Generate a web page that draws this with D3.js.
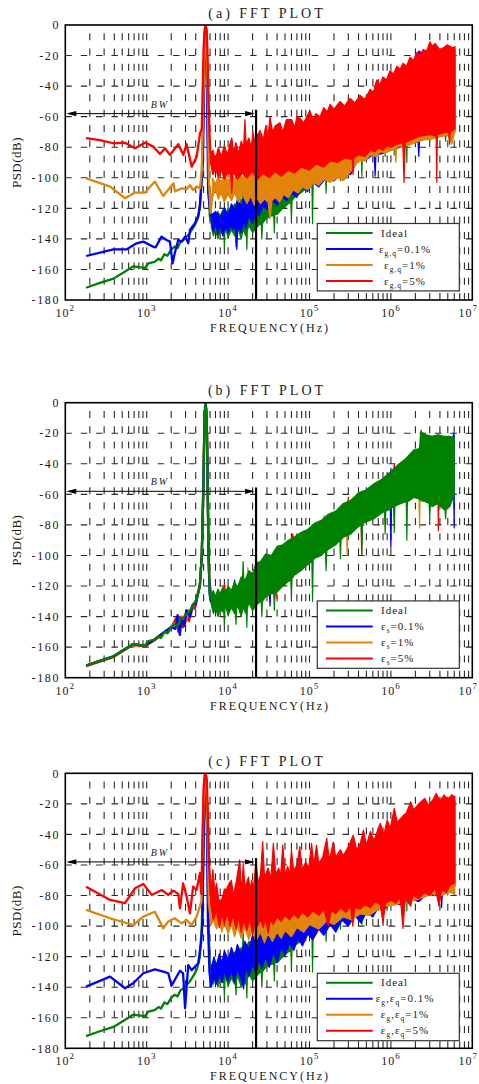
<!DOCTYPE html>
<html><head><meta charset="utf-8">
<script src="https://cdn.jsdelivr.net/npm/d3@7"></script>
<style>
body{margin:0;background:#fff}
svg{display:block}
text{font-family:"Liberation Serif","DejaVu Serif",serif;fill:#1a1a1a}
</style>
</head><body>
<svg id="chart" width="479" height="1084" font-family="Liberation Serif, DejaVu Serif, serif"></svg>
<script>
// ---------------- axis / annotation data ----------------
const yTickValues = [0,-20,-40,-60,-80,-100,-120,-140,-160,-180];
const xTickExponents = [2,3,4,5,6,7];
const panelTitles = ["(a) FFT PLOT","(b) FFT PLOT","(c) FFT PLOT"];
const bwFreq = 22050, bwLevel = -58, bwTopLevel = -55.5;
const legendA = ["Ideal","ε_{g,q}=0.1%","ε_{g,q}=1%","ε_{g,q}=5%"];
const legendB = ["Ideal","ε_{s}=0.1%","ε_{s}=1%","ε_{s}=5%"];
const legendC = ["Ideal","ε_{g},ε_{q}=0.1%","ε_{g},ε_{q}=1%","ε_{g},ε_{q}=5%"];
const seriesColors = {ideal:"#008000", blue:"#0000ff", orange:"#e0850a", red:"#ff0000"};

// ---------------- Ideal (same in all panels) ----------------
const idealLow = [[180,-172],[260,-169],[390,-166],[520,-162],[680,-158],[800,-158.5],[950,-159],[1050,-156],[1250,-155],[1400,-153],[1500,-154],[1650,-150],[1800,-151],[2000,-147],[2200,-145],[2400,-146],[2600,-142],[2800,-141],[3000,-139],[3300,-137],[3600,-134],[3900,-131],[4200,-127],[4500,-120],[4750,-100],[4950,-60],[5100,-20],[5200,-5],[5300,-1],[5400,-5],[5500,-20],[5620,-60],[5750,-100],[5950,-125],[6200,-129]];
const idealTop = [[6200,-126],[6600,-123],[7000,-127],[7500,-122],[8000,-125],[8600,-121],[9300,-124],[10000,-120],[11000,-123],[12000,-117],[13000,-121],[14500,-114],[15000,-117],[15300,-104],[15600,-116],[16500,-115],[18000,-110],[20000,-112],[22000,-105],[25000,-104],[29000,-99],[34000,-100],[40000,-94],[47000,-93],[55000,-90],[65000,-88],[78000,-85],[95000,-83],[115000,-79],[140000,-77],[170000,-73],[210000,-71],[260000,-66],[320000,-64],[400000,-59],[500000,-57],[620000,-53],[780000,-50],[950000,-46],[1200000,-41],[1500000,-37],[1900000,-31],[2250000,-30],[2320000,-19],[2700000,-21],[3200000,-22],[3800000,-21],[4500000,-22],[5300000,-22],[6000000,-23]];
const idealBot = [[6200,-132],[6600,-138],[7000,-134],[7500,-140],[8000,-135],[8600,-137],[8850,-136],[9000,-146],[9150,-135],[9300,-133],[10000,-139],[11000,-134],[12000,-138],[12300,-137],[12500,-145],[12700,-136],[13000,-132],[14500,-140],[15300,-134],[16500,-138],[16800,-137],[17000,-147],[17200,-135],[18000,-131],[20000,-136],[22000,-133],[25000,-130],[25600,-131],[26000,-140],[26400,-130],[29000,-127],[34000,-125],[36400,-125],[37000,-136],[37600,-124],[40000,-124],[47000,-120],[55000,-117],[59000,-116],[60000,-128],[61000,-115],[65000,-113],[78000,-110],[95000,-106],[107000,-104],[109000,-130],[111000,-103],[115000,-102],[140000,-100],[157000,-97],[160000,-110],[163000,-97],[170000,-96],[210000,-93],[236000,-90],[240000,-102],[244000,-90],[260000,-88],[320000,-86],[400000,-81],[432000,-80],[440000,-99],[448000,-79],[500000,-78],[620000,-76],[780000,-72],[835000,-71],[850000,-86],[865000,-71],[950000,-70],[1080000,-68],[1100000,-85],[1120000,-68],[1200000,-67],[1500000,-65],[1545000,-65],[1570000,-90],[1595000,-65],[1900000,-62],[2250000,-63],[2320000,-64],[2700000,-65],[2950000,-66],[3000000,-76],[3050000,-66],[3200000,-68],[3800000,-66],[4500000,-70],[4620000,-70],[4700000,-76],[4780000,-69],[5300000,-68],[6000000,-60]];

// ---------------- Panel (a) ----------------
const aBlueLow = [[180,-151.2],[267,-149],[390,-146.8],[570,-146.8],[750,-142.9],[910,-141.8],[1200,-145.1],[1290,-145.5],[1520,-138.5],[1750,-140.7],[1930,-141.8],[2080,-156],[2220,-149],[2440,-140.7],[2690,-141.8],[2960,-138.5],[3240,-142.9],[3400,-134.2],[3900,-129.8],[4300,-125.4],[4520,-116.7],[4900,-90],[5100,-30],[5250,-4],[5350,-3],[5450,-20],[5550,-60],[5700,-110],[5950,-119],[6200,-125]];
const aBlueTop = [[6200,-125],[7000,-122],[8000,-126],[9000,-120],[10000,-124],[11000,-117],[12000,-121],[13000,-114],[14500,-119],[16000,-110],[17500,-116],[19000,-108],[21000,-112],[23000,-104],[26000,-108],[30000,-101],[40000,-99],[55000,-92],[80000,-85],[120000,-78],[180000,-70],[270000,-62],[400000,-54],[600000,-46],[900000,-37],[1300000,-30],[1900000,-24],[2200000,-17],[2600000,-20],[3500000,-16],[4500000,-17],[6100000,-16]];
const aBlueBot = [[6200,-128],[6600,-135],[7000,-130],[7500,-137],[8000,-131],[8600,-138],[9300,-132],[10000,-136],[10800,-131],[11500,-134],[12400,-133],[12800,-147],[13200,-132],[14500,-136],[15500,-128],[16500,-133],[18000,-125],[20000,-130],[22000,-122],[24000,-125],[27000,-118],[30000,-121],[35000,-115],[40000,-118],[46000,-112],[52000,-115],[60000,-110],[70000,-113],[76000,-108],[82000,-106],[95000,-109],[110000,-103],[130000,-106],[160000,-100],[200000,-102],[250000,-97],[320000,-98],[400000,-87],[500000,-88],[600000,-85],[625000,-86],[640000,-99],[655000,-85],[800000,-84],[1000000,-82],[1300000,-80],[1700000,-78],[2150000,-76],[2200000,-86],[2250000,-76],[2500000,-75],[3000000,-74],[4000000,-73],[5000000,-72],[6100000,-70]];
const aOrangeLow = [[180,-100.3],[355,-105.8],[541,-113.4],[718,-109.7],[953,-109.7],[1260,-102.5],[1600,-111.9],[2130,-103.6],[2220,-108.9],[2690,-106.9],[3090,-107.5],[3400,-104.9],[3720,-108],[4115,-105.8],[4520,-106.9],[4750,-95],[5000,-40],[5200,-5],[5300,-1],[5400,-5],[5600,-40],[5800,-100],[6100,-123],[6400,-110]];
const aOrangeTop = [[6400,-100],[7000,-104],[7600,-99],[8200,-103],[9000,-98],[10000,-102],[11000,-97],[12000,-101],[13500,-96],[15000,-100],[17000,-95],[19000,-99],[21000,-93],[22500,-98],[25000,-92],[30000,-86],[40000,-80],[60000,-74],[100000,-66],[180000,-60],[300000,-54],[550000,-46],[1000000,-36],[1700000,-26],[2300000,-20],[3000000,-18],[4500000,-18],[6100000,-18]];
const aOrangeBot = [[6400,-113],[7000,-108],[7600,-114],[8200,-110],[9000,-116],[10000,-111],[11000,-115],[12000,-110],[13500,-116],[15000,-111],[17000,-117],[19000,-112],[21000,-118],[22500,-113],[25000,-117],[28000,-114],[31000,-116],[32700,-127],[34500,-115],[38000,-113],[43000,-116],[48000,-111],[55000,-113],[63000,-108],[72000,-110],[82000,-106],[95000,-108],[113000,-103],[130000,-105],[150000,-101],[180000,-103],[220000,-100],[260000,-102],[320000,-96],[400000,-89],[480000,-89],[560000,-85],[650000,-86],[750000,-83],[850000,-84],[1000000,-82],[1120000,-81],[1150000,-90],[1180000,-80],[1600000,-79],[2000000,-77],[2500000,-75],[3000000,-75],[3500000,-74],[4200000,-73],[5000000,-72],[5600000,-78],[6100000,-70]];
const aRedLow = [[180,-74],[267,-75.3],[390,-77.4],[541,-77],[718,-80.7],[953,-77],[1205,-79.6],[1453,-84.4],[1680,-80.7],[1930,-85],[2445,-78],[2818,-85],[3090,-78],[3573,-92.7],[4115,-86],[4520,-71],[4750,-68],[4880,-40],[5000,-15],[5150,-3],[5300,0],[5450,-3],[5560,-15],[5700,-40],[5900,-70],[6050,-84]];
const aRedTop = [[6050,-84],[6500,-82],[7000,-88],[7600,-80],[8200,-86],[9000,-79],[9800,-85],[10500,-78],[11100,-74],[11700,-83],[12500,-77],[13500,-84],[14500,-76],[15500,-80],[16100,-62],[16700,-78],[18000,-74],[19200,-80],[20200,-70],[21500,-78],[23000,-72],[24700,-69],[27000,-75],[29000,-66],[31000,-73],[32700,-60],[35000,-70],[38000,-66],[43400,-64],[47000,-70],[52000,-62],[60400,-62],[66000,-67],[70000,-60],[76400,-61],[85000,-64],[101000,-56],[110000,-62],[120000,-58],[135000,-60],[150000,-54],[165000,-57],[179000,-52],[200000,-55],[237000,-50],[270000,-53],[315000,-48],[360000,-51],[418000,-46],[480000,-49],[555000,-42],[610000,-44],[670000,-36],[730000,-39],[800000,-34],[880000,-36],[976000,-30],[1080000,-32],[1180000,-27],[1300000,-29],[1410000,-25],[1560000,-27],[1720000,-21],[1900000,-23],[2080000,-18],[2280000,-20],[2480000,-16],[2750000,-17],[3020000,-11],[3250000,-14],[3480000,-12],[3950000,-16],[4410000,-15],[4900000,-13],[5330000,-14],[5800000,-15],[6130000,-14]];
const aRedBot = [[6050,-90],[6500,-98],[7000,-94],[7600,-100],[8200,-95],[9000,-101],[10000,-96],[10800,-99],[11100,-110],[11400,-98],[11800,-97],[13000,-101],[15000,-97],[17000,-100],[20000,-96],[23000,-101],[27000,-97],[32000,-100],[38000,-96],[45000,-99],[55000,-95],[65000,-97],[80000,-93],[100000,-95],[120000,-91],[150000,-93],[180000,-89],[220000,-90],[270000,-87],[335000,-88],[343000,-98],[351000,-87],[400000,-85],[480000,-86],[560000,-82],[640000,-83],[700000,-80],[800000,-82],[900000,-79],[1000000,-80],[1200000,-78],[1400000,-77],[1450000,-103],[1500000,-77],[1800000,-75],[2200000,-73],[2800000,-72],[3200000,-72],[3600000,-73],[3660000,-103],[3720000,-72],[4200000,-71],[4900000,-70],[5150000,-71],[5250000,-78],[5350000,-70],[6130000,-68]];

// ---------------- Panel (b) ----------------
const bBlueLow = [[180,-172],[390,-166],[680,-158],[950,-159],[1250,-155],[1650,-150],[2000,-147],[2250,-148],[2400,-139],[2550,-152],[2700,-141],[2900,-146],[3100,-136],[3400,-140],[3700,-132],[4000,-132],[4300,-124],[4500,-120],[4750,-100],[4950,-60],[5100,-20],[5200,-5],[5300,-1],[5400,-5],[5500,-20],[5620,-60],[5750,-100],[5950,-126],[6200,-131]];
const bBlueTop = [[6200,-129],[11800,-122],[12000,-116],[12200,-122],[15000,-121],[22000,-110],[30000,-104],[47000,-96],[78000,-89],[115000,-83],[170000,-77],[260000,-71],[400000,-64],[620000,-58],[950000,-51],[990000,-49],[1000000,-43],[1010000,-49],[1500000,-42],[2250000,-35],[2330000,-25],[3200000,-26],[5700000,-25],[5900000,-20],[6000000,-22]];
const bBlueBot = [[6200,-130],[20000,-130],[25000,-124],[32000,-121],[32700,-133],[33400,-121],[40000,-118],[65000,-107],[115000,-96],[170000,-90],[260000,-82],[400000,-75],[620000,-70],[980000,-64],[1000000,-95],[1020000,-64],[1500000,-59],[2300000,-57],[3200000,-62],[5900000,-58],[6000000,-82]];
const bOrangeLow = [[180,-172],[390,-166],[680,-158],[950,-159],[1250,-155],[1650,-150],[2000,-147],[2350,-143],[2500,-148],[2750,-140],[3000,-144],[3250,-136],[3500,-139],[3800,-131],[4100,-129],[4500,-120],[4750,-100],[4950,-60],[5100,-20],[5200,-5],[5300,-1],[5400,-5],[5500,-20],[5620,-60],[5750,-100],[5950,-124],[6200,-128]];
const bOrangeTop = [[6200,-129],[15000,-121],[17300,-115],[17500,-108],[17700,-115],[22000,-110],[30000,-104],[47000,-96],[78000,-89],[115000,-83],[145000,-79],[150000,-74],[155000,-79],[260000,-71],[400000,-64],[620000,-58],[950000,-51],[1500000,-42],[2250000,-35],[2330000,-25],[3200000,-26],[6000000,-27]];
const bOrangeBot = [[6200,-130],[20000,-130],[25000,-124],[40000,-118],[65000,-107],[115000,-96],[170000,-90],[260000,-82],[285000,-81],[290000,-100],[295000,-81],[400000,-75],[620000,-70],[950000,-64],[1500000,-59],[2200000,-57],[2250000,-82],[2300000,-57],[3200000,-62],[6000000,-56]];
const bRedLow = [[180,-172.5],[390,-166.5],[680,-158.5],[950,-159.5],[1250,-155.5],[1650,-150.5],[2000,-147.5],[2300,-141],[2450,-150],[2600,-140],[2800,-147],[3000,-138],[3300,-143],[3600,-133],[3900,-135],[4200,-126],[4500,-119],[4750,-99],[4950,-55],[5100,-15],[5200,-3],[5300,-2],[5450,-8],[5550,-30],[5700,-80],[5850,-115],[6200,-126]];
const bRedTop = [[6200,-129],[8500,-127],[9000,-119],[9500,-127],[15000,-121],[22000,-110],[30000,-104],[47000,-96],[60000,-90],[62000,-86],[64000,-90],[78000,-89],[115000,-83],[170000,-77],[260000,-71],[290000,-69],[300000,-62],[310000,-69],[400000,-64],[620000,-58],[950000,-51],[1080000,-46],[1100000,-40],[1120000,-46],[1500000,-42],[2250000,-35],[2330000,-25],[2360000,-18],[2400000,-25],[3200000,-26],[6000000,-27]];
const bRedBot = [[6200,-130],[15000,-130],[20000,-130],[25000,-124],[38000,-119],[39000,-128],[40000,-118],[65000,-107],[115000,-96],[170000,-90],[260000,-82],[400000,-75],[430000,-75],[437000,-100],[444000,-74],[620000,-70],[950000,-64],[1500000,-59],[2300000,-57],[3200000,-62],[3780000,-62],[3830000,-84],[3880000,-62],[6000000,-56]];

// ---------------- Panel (c) ----------------
const cBlueLow = [[180,-139.6],[355,-133.1],[541,-140.7],[683,-137.4],[910,-130.9],[1260,-128.3],[1600,-129.8],[1840,-130.9],[2020,-139],[2560,-129.2],[2800,-130.9],[2960,-153.8],[3240,-125.5],[3570,-128.9],[3900,-126.6],[4300,-124.4],[4700,-109],[4850,-96],[5000,-40],[5200,-3],[5350,-3],[5500,-40],[5650,-96],[5900,-130],[6200,-140]];
const cBlueTop = [[6200,-128],[6700,-120],[7200,-126],[7800,-118],[8400,-124],[9000,-116],[10000,-122],[11000,-114],[12000,-120],[13000,-112],[14500,-118],[16000,-110],[18000,-115],[20000,-106],[22000,-111],[25000,-103],[28000,-107],[31000,-100],[35000,-104],[40000,-97],[45000,-101],[50000,-94],[60000,-96],[70000,-90],[85000,-92],[100000,-86],[150000,-80],[250000,-70],[400000,-60],[700000,-50],[1200000,-38],[2000000,-28],[3500000,-20],[6100000,-18]];
const cBlueBot = [[6200,-140],[6700,-133],[7200,-138],[7800,-131],[8400,-137],[9000,-130],[10000,-136],[11000,-129],[12000,-137],[13000,-128],[14500,-135],[15500,-141],[16500,-127],[18000,-133],[20000,-125],[22000,-131],[24000,-122],[26000,-128],[29000,-120],[32000,-127],[36000,-117],[40000,-124],[45000,-114],[50000,-119],[57000,-111],[64000,-116],[72000,-108],[82000,-113],[95000,-105],[110000,-109],[130000,-102],[150000,-106],[180000,-99],[210000,-104],[250000,-96],[300000,-100],[360000,-93],[430000,-98],[500000,-91],[600000,-94],[700000,-88],[800000,-90],[1000000,-85],[1300000,-86],[1700000,-82],[2200000,-84],[2800000,-79],[3300000,-80],[4100000,-77],[4200000,-88],[4300000,-77],[5000000,-77],[6100000,-74]];
const cOrangeLow = [[180,-89.4],[355,-94.9],[683,-99.3],[910,-93.8],[1260,-90.6],[1600,-101.5],[1840,-97],[2200,-94.9],[2690,-98.2],[3090,-96],[3570,-99.3],[4100,-93.8],[4700,-84],[4900,-40],[5100,-5],[5250,-1],[5400,-5],[5600,-40],[5800,-85],[6100,-95]];
const cOrangeTop = [[6100,-88],[6600,-84],[7200,-90],[7800,-85],[8400,-92],[9000,-86],[10000,-91],[11000,-85],[12000,-90],[13000,-84],[14500,-89],[16000,-83],[18000,-88],[20000,-82],[22000,-87],[25000,-83],[30000,-80],[40000,-78],[60000,-74],[100000,-68],[200000,-60],[400000,-52],[800000,-42],[1500000,-32],[3000000,-24],[6100000,-20]];
const cOrangeBot = [[6100,-100],[6600,-96],[7200,-102],[7800,-97],[8400,-104],[9000,-98],[10000,-105],[11000,-99],[12000,-107],[13000,-100],[14500,-108],[16000,-101],[18000,-109],[20000,-102],[22000,-110],[25000,-104],[28000,-111],[31000,-105],[35000,-110],[40000,-104],[45000,-108],[50000,-103],[60000,-107],[70000,-101],[85000,-104],[100000,-99],[130000,-102],[160000,-97],[200000,-99],[260000,-94],[330000,-96],[420000,-92],[540000,-93],[700000,-89],[900000,-87],[1150000,-86],[1500000,-84],[2000000,-83],[2600000,-81],[3300000,-79],[4200000,-80],[5200000,-78],[6100000,-79]];
const cRedLow = [[180,-74.2],[355,-82.9],[541,-85],[718,-75.3],[910,-72.4],[1150,-79.6],[1530,-76.4],[1840,-79.6],[2130,-76.8],[2440,-79],[2560,-88.4],[2800,-72],[3090,-80.7],[3400,-91.6],[3720,-74.2],[4100,-76.4],[4500,-65.4],[4700,-79],[4850,-40],[5000,-10],[5150,-1],[5300,0],[5450,-3],[5600,-20],[5850,-60],[6100,-80]];
const cRedTop = [[6100,-80],[6500,-63],[6900,-78],[7200,-72],[7700,-83],[8300,-83],[9000,-76],[9500,-76],[10300,-72],[11000,-70],[11600,-80],[12500,-72],[13900,-56.7],[14600,-78],[15400,-58.7],[16100,-75],[17800,-68],[18700,-76],[19500,-70],[20500,-75],[22000,-57],[23500,-72],[25000,-66],[26600,-44.7],[28000,-68],[31000,-62],[33500,-69],[36000,-45.8],[38500,-66],[42000,-62],[44000,-68],[47000,-46.9],[50000,-66],[54000,-61],[57000,-67],[60000,-50],[64000,-64],[70000,-60],[76000,-48],[81000,-63],[90000,-58],[98000,-62],[106000,-45.8],[113000,-60],[122000,-47],[130000,-59],[145000,-55],[163000,-42.5],[175000,-57],[196000,-45],[210000,-55],[240000,-50],[260000,-54],[300000,-48],[345000,-40.4],[380000,-50],[420000,-46],[460000,-37.1],[500000,-47],[560000,-38],[620000,-44],[740000,-32.7],[820000,-40],[900000,-30.5],[980000,-36],[1100000,-22.9],[1200000,-32],[1400000,-28],[1550000,-26],[1750000,-18.6],[1900000,-24],[2200000,-20],[2600000,-16.4],[2900000,-21],[3300000,-17],[3600000,-13.1],[4000000,-18],[4500000,-14.2],[5000000,-17],[5600000,-14],[6000000,-15.3],[6100000,-15]];
const cRedBot = [[6100,-85],[6600,-96],[7200,-90],[7800,-101],[8400,-92],[9000,-99],[9800,-91],[10500,-100],[11500,-93],[12500,-102],[13500,-94],[14500,-104],[15500,-96],[17000,-103],[18500,-95],[20000,-106],[21500,-97],[23000,-100],[25000,-96],[27000,-101],[29000,-95],[31000,-104.7],[33000,-96],[36000,-99],[40000,-94],[45000,-97],[50000,-93],[57000,-96],[64000,-92],[72000,-95],[82000,-91],[95000,-94],[110000,-90],[130000,-93],[150000,-89],[170000,-100],[185000,-90],[210000,-92],[240000,-88],[280000,-91],[320000,-87],[340000,-100],[360000,-88],[420000,-89],[480000,-86],[560000,-88],[640000,-84],[740000,-86],[800000,-98],[860000,-85],[1000000,-83],[1150000,-85],[1300000,-81],[1410000,-101.5],[1500000,-82],[1750000,-87],[1850000,-80],[2200000,-82],[2600000,-78],[3000000,-80],[3500000,-75],[3900000,-87],[4200000,-76],[4800000,-78],[5400000,-73],[6100000,-72]];

// ---------------- layout ----------------
const FONT = "Liberation Serif, DejaVu Serif, serif";
const plotLeft = 65.3, plotRight = 472.3, plotH = 275;
const panelTops = [25, 402.7, 773.3];
const svg = d3.select("#chart");
const x = d3.scaleLog().domain([1e2,1e7]).range([plotLeft,plotRight]);

function rich(t, str){
  let shifted = false;
  str.split(/(_\{[^}]*\})/).forEach(p => {
    if (!p) return;
    if (p.startsWith("_{")) {
      t.append("tspan").attr("font-size","7.5px").attr("dy", shifted?0:3).text(p.slice(2,-1));
      shifted = true;
    } else {
      t.append("tspan").attr("dy", shifted?-3:0).text(p);
      shifted = false;
    }
  });
}

function drawPanel(cfg){
  const top = cfg.top, bottom = top + plotH;
  const y = d3.scaleLinear().domain([0,-180]).range([top,bottom]);
  const g = svg.append("g").attr("font-family", FONT);
  const clipId = "clip" + cfg.id;
  svg.append("clipPath").attr("id",clipId).append("rect")
    .attr("x",plotLeft).attr("y",top).attr("width",plotRight-plotLeft).attr("height",plotH);

  // grid
  const grid = g.append("g").attr("stroke","#2a2a2a").attr("stroke-width",1.1).attr("fill","none");
  x.ticks().filter(v => v > 100*1.001 && v < 1e7*0.999).forEach(v => {
    grid.append("line").attr("x1",x(v)).attr("x2",x(v)).attr("y1",bottom).attr("y2",top)
      .attr("stroke-dasharray","7 8.28");
  });
  yTickValues.filter(v => v < 0 && v > -180).forEach(v => {
    grid.append("line").attr("x1",plotLeft).attr("x2",plotRight).attr("y1",y(v)).attr("y2",y(v))
      .attr("stroke-dasharray","6.5 8.9");
  });

  // data
  const dg = g.append("g").attr("clip-path",`url(#${clipId})`);
  const line = d3.line().x(d => x(d[0])).y(d => y(d[1]));
  cfg.series.forEach(s => {
    dg.append("path").attr("d", line(s.top.concat(s.bot.slice().reverse())) + "Z")
      .attr("fill", s.color).attr("stroke", s.color).attr("stroke-width",1.2).attr("stroke-linejoin","round");
    dg.append("path").attr("d", line(s.low)).attr("fill","none")
      .attr("stroke", s.color).attr("stroke-width",2.3).attr("stroke-linejoin","round");
  });

  // BW marker
  const xb = x(bwFreq), ya = y(bwLevel);
  g.append("line").attr("x1",xb).attr("x2",xb).attr("y1",y(bwTopLevel)).attr("y2",bottom)
    .attr("stroke","#000").attr("stroke-width",2.2);
  g.append("line").attr("x1",plotLeft+4).attr("x2",xb-4).attr("y1",ya).attr("y2",ya)
    .attr("stroke","#000").attr("stroke-width",1);
  g.append("path").attr("d",`M${plotLeft+1},${ya}L${plotLeft+11},${ya-2.6}L${plotLeft+11},${ya+2.6}Z`).attr("fill","#000");
  g.append("path").attr("d",`M${xb-1.5},${ya}L${xb-11},${ya-2.6}L${xb-11},${ya+2.6}Z`).attr("fill","#000");
  g.append("text").attr("x",160).attr("y",ya-6).attr("text-anchor","middle")
    .attr("font-size","10px").attr("font-style","italic").attr("letter-spacing","2px").attr("fill","#333").text("BW");

  // frame
  g.append("rect").attr("x",plotLeft).attr("y",top).attr("width",plotRight-plotLeft).attr("height",plotH)
    .attr("fill","none").attr("stroke","#000").attr("stroke-width",1.6);

  // y tick labels
  yTickValues.forEach(v => {
    g.append("text").attr("x",60).attr("y",y(v)).attr("dy","0.35em").attr("text-anchor","end")
      .attr("font-size","12px").attr("letter-spacing","1.6px").text(String(v));
  });
  // x tick labels
  xTickExponents.forEach((e,i) => {
    const last = i === xTickExponents.length-1;
    const t = g.append("text").attr("x", last ? 478 : x(Math.pow(10,e)))
      .attr("y",bottom+17).attr("text-anchor", last ? "end" : "middle")
      .attr("font-size","12px").attr("letter-spacing","1px");
    t.append("tspan").text("10");
    t.append("tspan").attr("font-size","9px").attr("dy",-6).text(String(e));
  });
  // axis titles
  g.append("text").attr("x",270).attr("y",bottom+32).attr("text-anchor","middle")
    .attr("font-size","12px").attr("letter-spacing","2px").text("FREQUENCY(Hz)");
  g.append("text").attr("transform",`translate(21,${top+plotH/2}) rotate(-90)`).attr("text-anchor","middle")
    .attr("font-size","13px").attr("letter-spacing","0.5px").text("PSD(dB)");
  g.append("text").attr("x",267).attr("y",top-7.5).attr("text-anchor","middle")
    .attr("font-size","14px").attr("letter-spacing","3px").text(cfg.title);

  // legend
  const ly = top + cfg.legendOffset;
  const lg = g.append("g");
  lg.append("rect").attr("x",317.3).attr("y",ly).attr("width",142).attr("height",67.4)
    .attr("fill","#fff").attr("stroke","#333").attr("stroke-width",1.2);
  cfg.legend.forEach((lab,i) => {
    const ry = ly + 9.5 + i*16;
    lg.append("line").attr("x1",326).attr("x2",372.7).attr("y1",ry).attr("y2",ry)
      .attr("stroke", cfg.legendColors[i]).attr("stroke-width",2);
    const centered = cfg.legendCenter && i > 0;
    const t = lg.append("text").attr("x", centered ? 405 : 381).attr("y", ry+3.5)
      .attr("text-anchor", centered ? "middle" : "start")
      .attr("font-size","11px").attr("letter-spacing","1px").attr("fill","#333");
    rich(t, lab);
  });
}

const C = seriesColors;
const legendColors = [C.ideal, C.blue, C.orange, C.red];
drawPanel({id:"a", top:panelTops[0], title:panelTitles[0], legend:legendA, legendColors, legendCenter:true, legendOffset:198.5,
  series:[
    {color:C.ideal, low:idealLow, top:idealTop, bot:idealBot},
    {color:C.blue, low:aBlueLow, top:aBlueTop, bot:aBlueBot},
    {color:C.orange, low:aOrangeLow, top:aOrangeTop, bot:aOrangeBot},
    {color:C.red, low:aRedLow, top:aRedTop, bot:aRedBot}
  ]});
drawPanel({id:"b", top:panelTops[1], title:panelTitles[1], legend:legendB, legendColors, legendCenter:false, legendOffset:198.2,
  series:[
    {color:C.red, low:bRedLow, top:bRedTop, bot:bRedBot},
    {color:C.orange, low:bOrangeLow, top:bOrangeTop, bot:bOrangeBot},
    {color:C.blue, low:bBlueLow, top:bBlueTop, bot:bBlueBot},
    {color:C.ideal, low:idealLow, top:idealTop, bot:idealBot}
  ]});
drawPanel({id:"c", top:panelTops[2], title:panelTitles[2], legend:legendC, legendColors, legendCenter:true, legendOffset:200,
  series:[
    {color:C.ideal, low:idealLow, top:idealTop, bot:idealBot},
    {color:C.blue, low:cBlueLow, top:cBlueTop, bot:cBlueBot},
    {color:C.orange, low:cOrangeLow, top:cOrangeTop, bot:cOrangeBot},
    {color:C.red, low:cRedLow, top:cRedTop, bot:cRedBot}
  ]});
</script>
</body></html>
